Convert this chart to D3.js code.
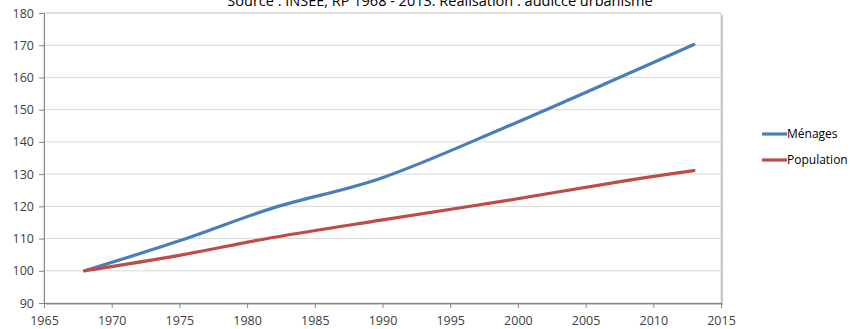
<!DOCTYPE html>
<html>
<head>
<meta charset="utf-8">
<script src="https://cdn.jsdelivr.net/npm/d3@7"></script>
<style>
  body { margin: 0; background: #fff; }
  svg text { font-family: "Open Sans", "Liberation Sans", sans-serif; fill: #404040; }
</style>
</head>
<body>
<svg id="chart" width="850" height="329"></svg>
<script>
// census years (RP) and index values, base 100 in 1968
var years = [1968, 1975, 1982, 1990, 1999, 2008, 2013];
var menages = [100, 109.3, 119.6, 128.9, 144.4, 160.9, 170.2];
var population = [100, 104.8, 110.4, 115.8, 121.7, 128.0, 131.1];
var seriesNames = ["Ménages", "Population"];
var seriesColors = ["#4a7ebb", "#be4b48"];
var xTicks = [1965, 1970, 1975, 1980, 1985, 1990, 1995, 2000, 2005, 2010, 2015];
var yTicks = [90, 100, 110, 120, 130, 140, 150, 160, 170, 180];
var title = "Source : INSEE, RP 1968 - 2013. Réalisation : audiccé urbanisme";

var svg = d3.select("#chart");
var plotLeft = 44, plotRight = 721, plotTop = 13, plotBottom = 303;

var x = d3.scaleLinear().domain([1965, 2015]).range([plotLeft, plotRight]);
var y = d3.scaleLinear().domain([90, 180]).range([plotBottom, plotTop]);

// title, cut at the top like the original
svg.append("text")
  .attr("x", 440)
  .attr("y", 6)
  .attr("text-anchor", "middle")
  .style("font-size", "14.5px")
  .style("fill", "#000")
  .text(title);

// plot area shadow + frame
svg.append("rect")
  .attr("x", plotLeft + 2).attr("y", plotTop + 2)
  .attr("width", plotRight - plotLeft).attr("height", plotBottom - plotTop)
  .attr("fill", "#c8c8c8");
svg.append("rect")
  .attr("x", plotLeft).attr("y", plotTop)
  .attr("width", plotRight - plotLeft).attr("height", plotBottom - plotTop)
  .attr("fill", "#fff")
  .attr("stroke", "#d0d0d0");

// gridlines
svg.selectAll(".grid")
  .data(yTicks.slice(1))
  .enter()
  .append("line")
    .attr("class", "grid")
    .attr("x1", plotLeft).attr("x2", plotRight)
    .attr("y1", function(d) {return y(d);})
    .attr("y2", function(d) {return y(d);})
    .attr("stroke", "#d9d9d9")
    .attr("stroke-width", 1);

// axes
var yAxis = svg.append("g")
  .attr("transform", "translate(" + plotLeft + ",0)")
  .call(d3.axisLeft(y).tickValues(yTicks).tickSize(5).tickSizeOuter(0).tickPadding(5));
var xAxis = svg.append("g")
  .attr("transform", "translate(0," + plotBottom + ")")
  .call(d3.axisBottom(x).tickValues(xTicks).tickFormat(d3.format("d")).tickSize(5).tickSizeOuter(0).tickPadding(8));

[yAxis, xAxis].forEach(function(a) {
  a.selectAll("path, line").attr("stroke", "#868686");
  a.selectAll("text")
    .style("font-size", "12.5px")
    .style("font-family", "\"Open Sans\", \"Liberation Sans\", sans-serif")
    .attr("fill", "#404040");
});

// lines
var line = d3.line()
  .x(function(d) {return x(d[0]);})
  .y(function(d) {return y(d[1]);})
  .curve(d3.curveCatmullRom.alpha(0));

[menages, population].forEach(function(vals, i) {
  svg.append("path")
    .datum(years.map(function(yr, j) {return [yr, vals[j]];}))
    .attr("fill", "none")
    .attr("stroke", seriesColors[i])
    .attr("stroke-width", 3.2)
    .attr("stroke-linecap", "round")
    .attr("d", line);
});

// legend
var legend = svg.selectAll(".legend")
  .data(seriesNames)
  .enter()
  .append("g")
    .attr("class", "legend")
    .attr("transform", function(d, i) {return "translate(762," + (134 + i * 26) + ")";});
legend.append("line")
  .attr("x1", 0).attr("x2", 25)
  .attr("stroke", function(d, i) {return seriesColors[i];})
  .attr("stroke-width", 3.2);
legend.append("text")
  .attr("x", 25).attr("y", 4)
  .style("font-size", "12px")
  .style("fill", "#000")
  .text(function(d) {return d;});
</script>
</body>
</html>
